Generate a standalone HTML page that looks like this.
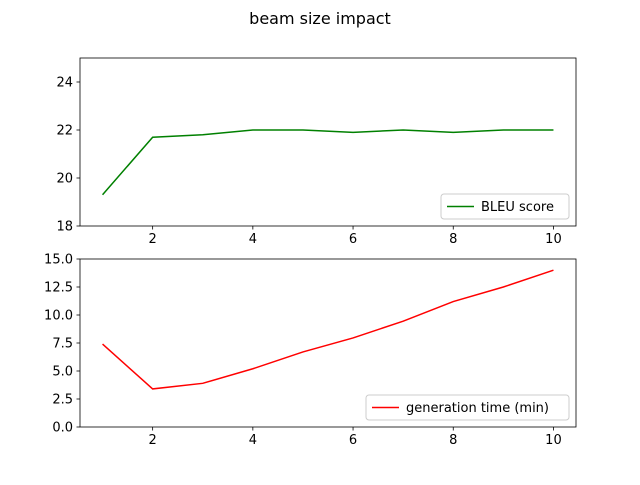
<!DOCTYPE html>
<html><head><meta charset="utf-8"><style>
body{margin:0;background:#fff;font-family:"Liberation Sans","DejaVu Sans",sans-serif;}
svg text{font-family:"DejaVu Sans","Liberation Sans",sans-serif;font-size:13px;fill:#000}
</style></head><body>
<svg id="chart" width="640" height="480">
<text x="320" y="24" text-anchor="middle" font-size="16" style="font-size:16px">beam size impact</text>
</svg>
<script>
const beams=[1,2,3,4,5,6,7,8,9,10];
const bleu=[19.3,21.7,21.8,22.0,22.0,21.9,22.0,21.9,22.0,22.0];
const genTime=[7.4,3.4,3.9,5.2,6.7,7.95,9.45,11.2,12.5,14.0];
const xTicks=[2,4,6,8,10];
const bleuTicks=[18,20,22,24];
const timeTicks=[0,2.5,5,7.5,10,12.5,15];
const timeTickLabels=["0.0","2.5","5.0","7.5","10.0","12.5","15.0"];
const NS="http://www.w3.org/2000/svg";
const svg=document.getElementById('chart');
function mk(t,a,p){const e=document.createElementNS(NS,t);for(const k in a)e.setAttribute(k,a[k]);(p||svg).appendChild(e);return e;}
const L=80,R=576;
const xs=v=>L+(v-0.55)/(10.45-0.55)*(R-L);
function panel(name,top,bot,ymin,ymax,ticks,labels,vals,color,legend,legW){
  const g=mk('g',{});
  
  
  const ys=v=>bot-(v-ymin)/(ymax-ymin)*(bot-top);
  let pts=beams.map((b,i)=>xs(b)+','+ys(vals[i])).join(' ');
  const line=mk('polyline',{points:pts,fill:'none',stroke:color,'stroke-width':1.5},g);
  
  
  mk('rect',{x:L,y:top,width:R-L,height:bot-top,fill:'none',stroke:'#000','stroke-width':0.8},g);
  xTicks.forEach(t=>{const x=xs(t);mk('line',{x1:x,x2:x,y1:bot,y2:bot+3.5,stroke:'#000','stroke-width':0.8},g);
    const tx=mk('text',{x:x,y:bot+17,'text-anchor':'middle'},g);tx.textContent=t;
    });
  ticks.forEach((t,i)=>{const y=ys(t);mk('line',{x1:L-3.5,x2:L,y1:y,y2:y,stroke:'#000','stroke-width':0.8},g);
    const tx=mk('text',{x:L-7,y:y+4.5,'text-anchor':'end'},g);tx.textContent=labels[i];
    });
  const lg=mk('g',{},g);
  
  
  const lx=R-7-legW, ly=bot-32;
  mk('rect',{x:lx,y:ly,width:legW,height:25,rx:3,fill:'#fff',stroke:'#ccc','stroke-width':1},lg);
  mk('line',{x1:lx+6,x2:lx+33,y1:ly+12.5,y2:ly+12.5,stroke:color,'stroke-width':1.5},lg);
  const lt=mk('text',{x:lx+40,y:ly+17},lg);lt.textContent=legend;
}
panel('bleu-panel',58,226,18,25,bleuTicks,bleuTicks.map(String),bleu,'green','BLEU score',128);
panel('time-panel',259,427,0,15,timeTicks,timeTickLabels,genTime,'red','generation time (min)',203);
</script>
</body></html>
